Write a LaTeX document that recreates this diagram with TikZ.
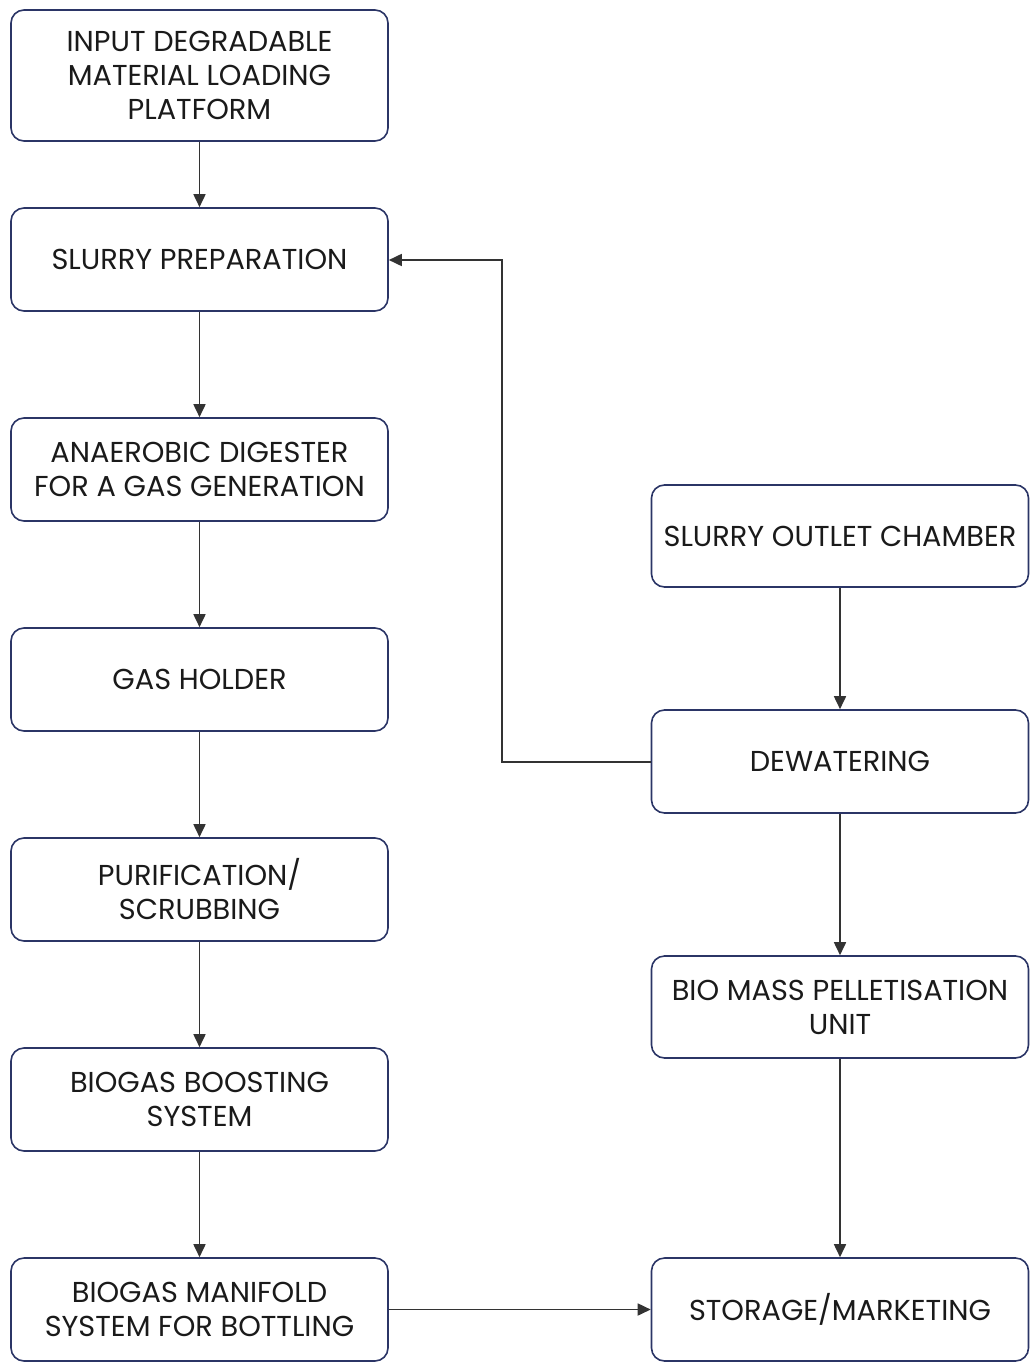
\documentclass[tikz,border=0pt]{standalone}
\usepackage{fontspec}
\setmainfont{Poppins}
\usetikzlibrary{arrows.meta}
\definecolor{boxline}{HTML}{2B3566}
\definecolor{arrowline}{HTML}{333333}
\definecolor{txt}{HTML}{1A1A1A}
\begin{document}
\begin{tikzpicture}[x=1pt,y=-1pt,
  box/.style={draw=boxline, line width=1.6pt, rounded corners=13pt, fill=white,
    minimum width=377pt, inner sep=0pt, align=center, text=txt,
    font=\fontsize{28.8}{34}\selectfont},
  flow/.style={draw=arrowline, line width=1.7pt, -{Triangle[length=13pt,width=12pt]}}]
\useasboundingbox (0,0) rectangle (1034,1367);
\node[box, minimum height=131pt] (input) at (199.5,75.5) {INPUT DEGRADABLE\\MATERIAL LOADING\\PLATFORM};
\node[box, minimum height=103pt] (slurry) at (199.5,259.5) {SLURRY PREPARATION};
\node[box, minimum height=103pt] (digester) at (199.5,469.5) {ANAEROBIC DIGESTER\\FOR A GAS GENERATION};
\node[box, minimum height=103pt] (holder) at (199.5,679.5) {GAS HOLDER};
\node[box, minimum height=103pt] (purif) at (199.5,889.5) {PURIFICATION/\\SCRUBBING};
\node[box, minimum height=103pt] (boost) at (199.5,1099.5) {BIOGAS BOOSTING\\SYSTEM};
\node[box, minimum height=103pt] (manifold) at (199.5,1309.5) {BIOGAS MANIFOLD\\SYSTEM FOR BOTTLING};
\node[box, minimum height=102pt] (outlet) at (840,536) {SLURRY OUTLET CHAMBER};
\node[box, minimum height=103pt] (dewater) at (840,761.5) {DEWATERING};
\node[box, minimum height=102pt] (pellet) at (840,1007) {BIO MASS PELLETISATION\\UNIT};
\node[box, minimum height=103pt] (storage) at (840,1309.5) {STORAGE/MARKETING};
\coordinate (bend1) at (502,762);
\coordinate (bend2) at (502,260);
\draw[flow] (input) -- (slurry);
\draw[flow] (slurry) -- (digester);
\draw[flow] (digester) -- (holder);
\draw[flow] (holder) -- (purif);
\draw[flow] (purif) -- (boost);
\draw[flow] (boost) -- (manifold);
\draw[flow] (outlet) -- (dewater);
\draw[flow] (dewater) -- (pellet);
\draw[flow] (pellet) -- (storage);
\draw[flow] (manifold) -- (storage);
\draw[flow] (dewater.west |- bend1) -- (bend1) -- (bend2) -- (slurry.east |- bend2);
\end{tikzpicture}
\end{document}
